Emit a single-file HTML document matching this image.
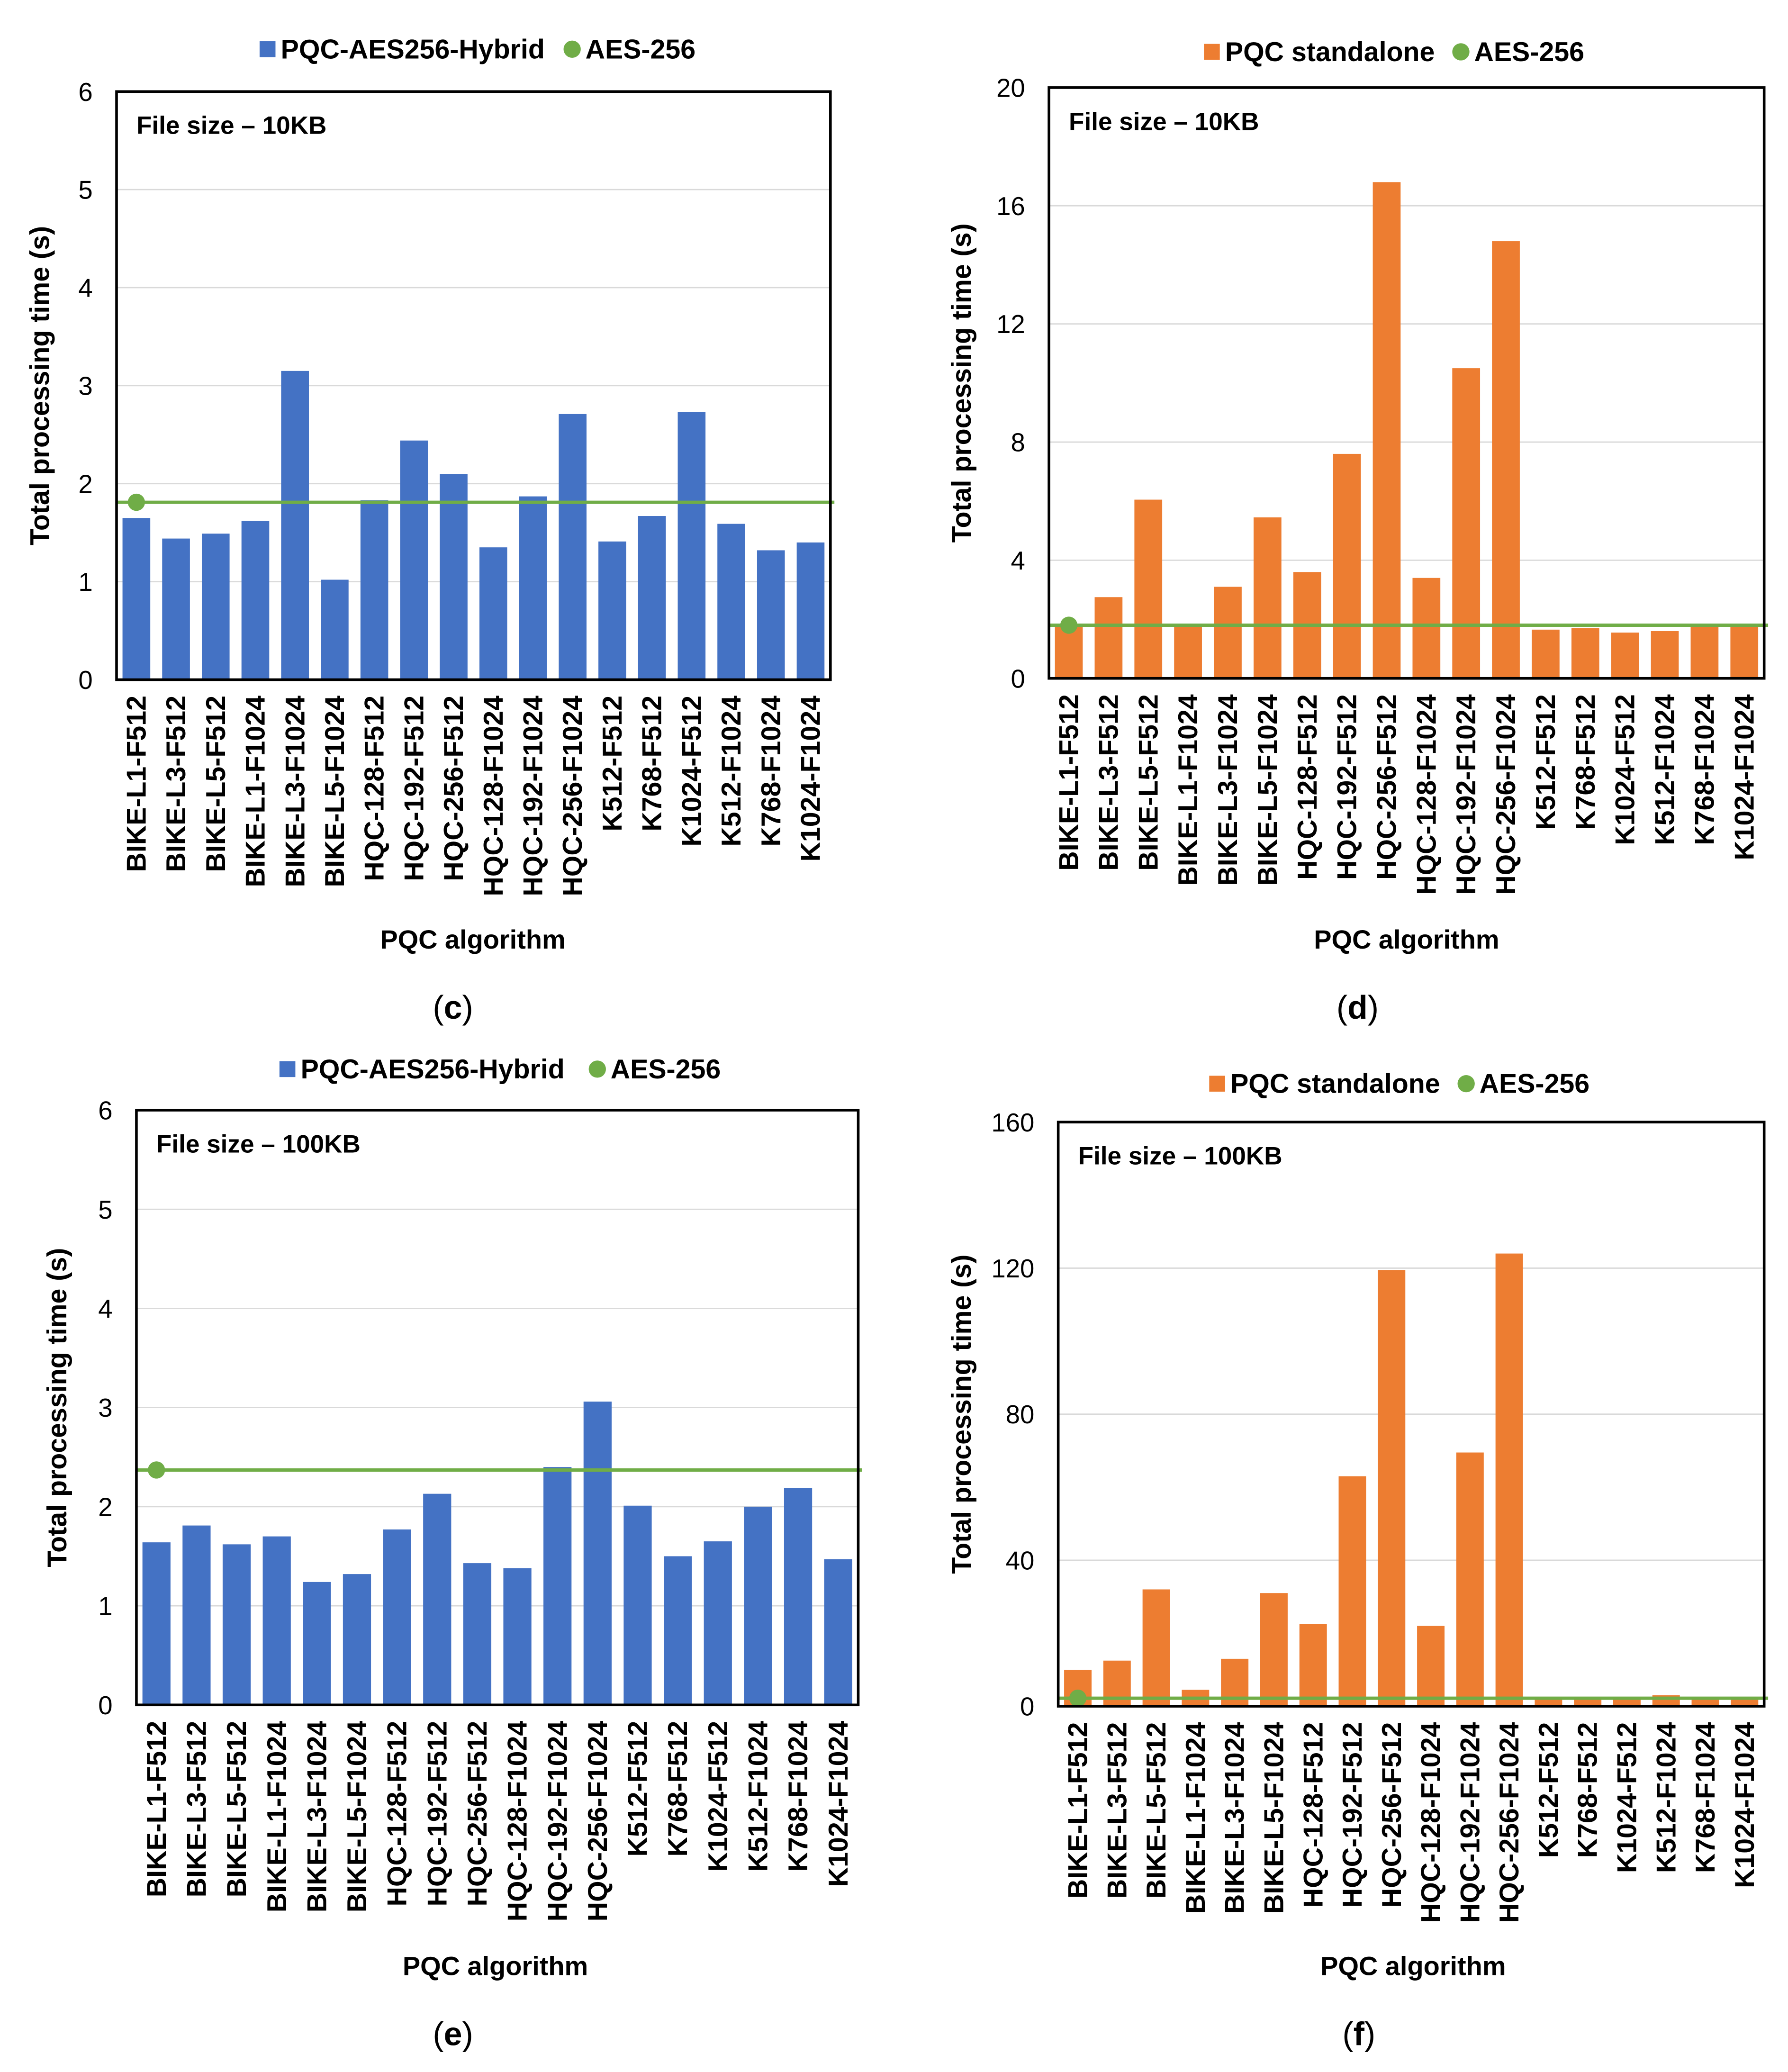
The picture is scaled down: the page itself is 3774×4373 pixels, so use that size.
<!DOCTYPE html>
<html><head><meta charset="utf-8"><style>
html,body{margin:0;padding:0;background:#fff}
svg{display:block}
text{font-family:"Liberation Sans",Arial,sans-serif;fill:#000}
</style></head><body>
<svg id="root" xmlns="http://www.w3.org/2000/svg" width="3774" height="4373" viewBox="0 0 1350 1564"></svg>
<script>
const categories = ["BIKE-L1-F512","BIKE-L3-F512","BIKE-L5-F512","BIKE-L1-F1024","BIKE-L3-F1024","BIKE-L5-F1024","HQC-128-F512","HQC-192-F512","HQC-256-F512","HQC-128-F1024","HQC-192-F1024","HQC-256-F1024","K512-F512","K768-F512","K1024-F512","K512-F1024","K768-F1024","K1024-F1024"];
const valuesC = [1.65,1.44,1.49,1.62,3.15,1.02,1.83,2.44,2.10,1.35,1.87,2.71,1.41,1.67,2.73,1.59,1.32,1.40];
const valuesD = [1.8,2.75,6.05,1.8,3.1,5.45,3.6,7.6,16.8,3.4,10.5,14.8,1.65,1.7,1.55,1.6,1.8,1.8];
const valuesE = [1.64,1.81,1.62,1.70,1.24,1.32,1.77,2.13,1.43,1.38,2.40,3.06,2.01,1.50,1.65,2.00,2.19,1.47];
const valuesF = [10,12.5,32,4.5,13,31,22.5,63,119.5,22,69.5,124,2,2,2,3,2,2];
const aesC = 1.81, aesD = 1.8, aesE = 2.37, aesF = 2.2;
const ticksC = [0,1,2,3,4,5,6];
const ticksD = [0,4,8,12,16,20];
const ticksE = [0,1,2,3,4,5,6];
const ticksF = [0,40,80,120,160];

const NS="http://www.w3.org/2000/svg";
const root=document.getElementById('root');
function mk(tag,attrs,parent,txt){const e=document.createElementNS(NS,tag);for(const k in attrs)e.setAttribute(k,attrs[k]);if(txt!==undefined)e.textContent=txt;(parent||root).appendChild(e);return e;}

function panel(id,cfg){
  const g=mk('g',{});
  
  
  const {x0,x1,y0,y1,max,ticks,vals,aes,color,series,legY,sqX,dotX,titleX,label,fileText,xTitleX,capX}=cfg;
  const ys=v=>y1-(v/max)*(y1-y0);
  const step=(x1-x0)/vals.length;
  const xs=i=>x0+step*(i+0.5);
  ticks.forEach(t=>{
    if(t>0&&t<max){const l=mk('line',{x1:x0,x2:x1,y1:ys(t),y2:ys(t),stroke:'#d9d9d9','stroke-width':1},g);
      
      }
    const tt=mk('text',{x:x0-18,y:ys(t)+7,'font-size':19.5,'text-anchor':'end'},g,t);
    
    
  });
  const bw=step*0.7;
  vals.forEach((v,i)=>{
    const r=mk('rect',{x:xs(i)-bw/2,y:ys(v),width:bw,height:y1-ys(v),fill:color},g);
    
    
    const t=mk('text',{x:xs(i)+7,y:y1+12,'font-size':20.5,'font-weight':'bold','text-anchor':'end',transform:`rotate(-90 ${xs(i)+7} ${y1+12})`},g,categories[i]);
    
    
  });
  const al=mk('line',{x1:x0,x2:x1+3,y1:ys(aes),y2:ys(aes),stroke:'#70AD47','stroke-width':2.5},g);
  
  
  const ad=mk('circle',{cx:xs(0),cy:ys(aes),r:6.5,fill:'#70AD47'},g);
  
  
  const fr=mk('rect',{x:x0,y:y0,width:x1-x0,height:y1-y0,fill:'none',stroke:'#000','stroke-width':2},g);
  
  
  const ft=mk('text',{x:x0+15,y:y0+32,'font-size':19,'font-weight':'bold','font-family':'Liberation Serif, serif'},g,fileText);
  
  
  const ls=mk('rect',{x:sqX-6,y:legY-6,width:12,height:12,fill:color},g);
  
  
  const lt=mk('text',{x:sqX+10,y:legY+7,'font-size':20.5,'font-weight':'bold'},g,series);
  
  
  const lc=mk('circle',{cx:dotX,cy:legY,r:6.5,fill:'#70AD47'},g);
  
  
  const la=mk('text',{x:dotX+10,y:legY+7,'font-size':20.5,'font-weight':'bold'},g,'AES-256');
  
  
  const yc=(y0+y1)/2;
  const yt=mk('text',{x:titleX,y:yc,'font-size':20.5,'font-weight':'bold','text-anchor':'middle',transform:`rotate(-90 ${titleX} ${yc})`},g,'Total processing time (s)');
  
  
  const xt=mk('text',{x:xTitleX,y:cfg.xTitleY,'font-size':20,'font-weight':'bold','text-anchor':'middle'},g,'PQC algorithm');
  
  
  const cp=mk('text',{x:capX,y:cfg.xTitleY+53,'font-size':25,'text-anchor':'middle','font-family':'Liberation Serif, serif'},g);
  
  
  mk('tspan',{},cp,'(');mk('tspan',{'font-weight':'bold'},cp,label);mk('tspan',{},cp,')');
}
panel('c',{x0:88,x1:627,y0:69,y1:513,max:6,ticks:ticksC,vals:valuesC,aes:aesC,color:'#4472C4',series:'PQC-AES256-Hybrid',legY:37,sqX:202,dotX:432,titleX:37,label:'c',fileText:'File size – 10KB',xTitleX:357,xTitleY:716,capX:342});
panel('d',{x0:792,x1:1332,y0:66,y1:512,max:20,ticks:ticksD,vals:valuesD,aes:aesD,color:'#ED7D31',series:'PQC standalone',legY:39,sqX:915,dotX:1103,titleX:733,label:'d',fileText:'File size – 10KB',xTitleX:1062,xTitleY:716,capX:1025});
panel('e',{x0:103,x1:648,y0:838,y1:1287,max:6,ticks:ticksE,vals:valuesE,aes:aesE,color:'#4472C4',series:'PQC-AES256-Hybrid',legY:807,sqX:217,dotX:451,titleX:50,label:'e',fileText:'File size – 100KB',xTitleX:374,xTitleY:1491,capX:342});
panel('f',{x0:799,x1:1332,y0:847,y1:1288,max:160,ticks:ticksF,vals:valuesF,aes:aesF,color:'#ED7D31',series:'PQC standalone',legY:818,sqX:919,dotX:1107,titleX:733,label:'f',fileText:'File size – 100KB',xTitleX:1067,xTitleY:1491,capX:1026});
</script>
</body></html>
